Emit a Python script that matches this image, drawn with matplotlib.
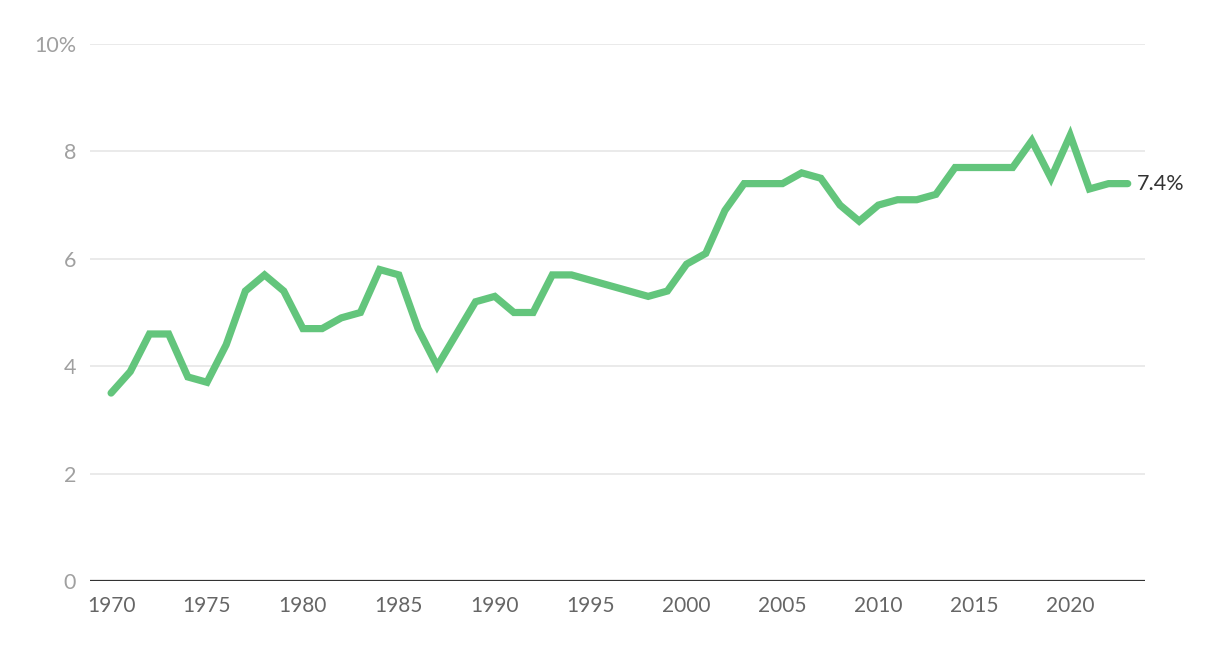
import numpy as np
import matplotlib
matplotlib.use('Agg')
import matplotlib.pyplot as plt

# data (1995-1997 missing in the source line)
years = [1970, 1971, 1972, 1973, 1974, 1975, 1976, 1977, 1978, 1979,
         1980, 1981, 1982, 1983, 1984, 1985, 1986, 1987, 1988, 1989,
         1990, 1991, 1992, 1993, 1994, 1998, 1999,
         2000, 2001, 2002, 2003, 2004, 2005, 2006, 2007, 2008, 2009,
         2010, 2011, 2012, 2013, 2014, 2015, 2016, 2017, 2018, 2019,
         2020, 2021, 2022, 2023]
values = [3.5, 3.9, 4.6, 4.6, 3.8, 3.7, 4.4, 5.4, 5.7, 5.4,
          4.7, 4.7, 4.9, 5.0, 5.8, 5.7, 4.7, 4.0, 4.6, 5.2,
          5.3, 5.0, 5.0, 5.7, 5.7, 5.3, 5.4,
          5.9, 6.1, 6.9, 7.4, 7.4, 7.4, 7.6, 7.5, 7.0, 6.7,
          7.0, 7.1, 7.1, 7.2, 7.7, 7.7, 7.7, 7.7, 8.2, 7.5,
          8.3, 7.3, 7.4, 7.4]
x_ticks = [1970, 1975, 1980, 1985, 1990, 1995, 2000, 2005, 2010, 2015, 2020]
y_ticks = [0, 2, 4, 6, 8, 10]
y_labels = ['0', '2', '4', '6', '8', '10%']

plt.rcParams['font.family'] = ['Lato', 'DejaVu Sans']

fig = plt.figure(figsize=(12.2, 6.52), dpi=100)
ax = fig.add_axes([90 / 1220, 1 - 581 / 652, (1145 - 90) / 1220, (581 - 44) / 652])

ax.plot(years, values, color='#63c57c', linewidth=5.2,
        solid_capstyle='round', solid_joinstyle='miter', clip_on=False, zorder=3)
ax.text(years[-1] + 0.5, values[-1], f'{values[-1]}%', color='#333333',
        fontsize=15.5, va='center', ha='left')

ax.set_xlim(1968.9, 2023.9)
ax.set_ylim(0, 10)
ax.set_xticks(x_ticks)
ax.set_yticks(y_ticks)
ax.set_yticklabels(y_labels)

for y in y_ticks[1:]:
    ax.axhline(y, color='#e6e6e6', linewidth=1.2, zorder=1)
ax.axhline(0, color='#333333', linewidth=1.6, zorder=2)

for s in ax.spines.values():
    s.set_visible(False)
ax.tick_params(axis='both', length=0)
ax.tick_params(axis='x', pad=11, labelsize=15, labelcolor='#666666')
ax.tick_params(axis='y', pad=10, labelsize=15.5, labelcolor='#a0a0a0')

fig.savefig('out.png', dpi=100)
